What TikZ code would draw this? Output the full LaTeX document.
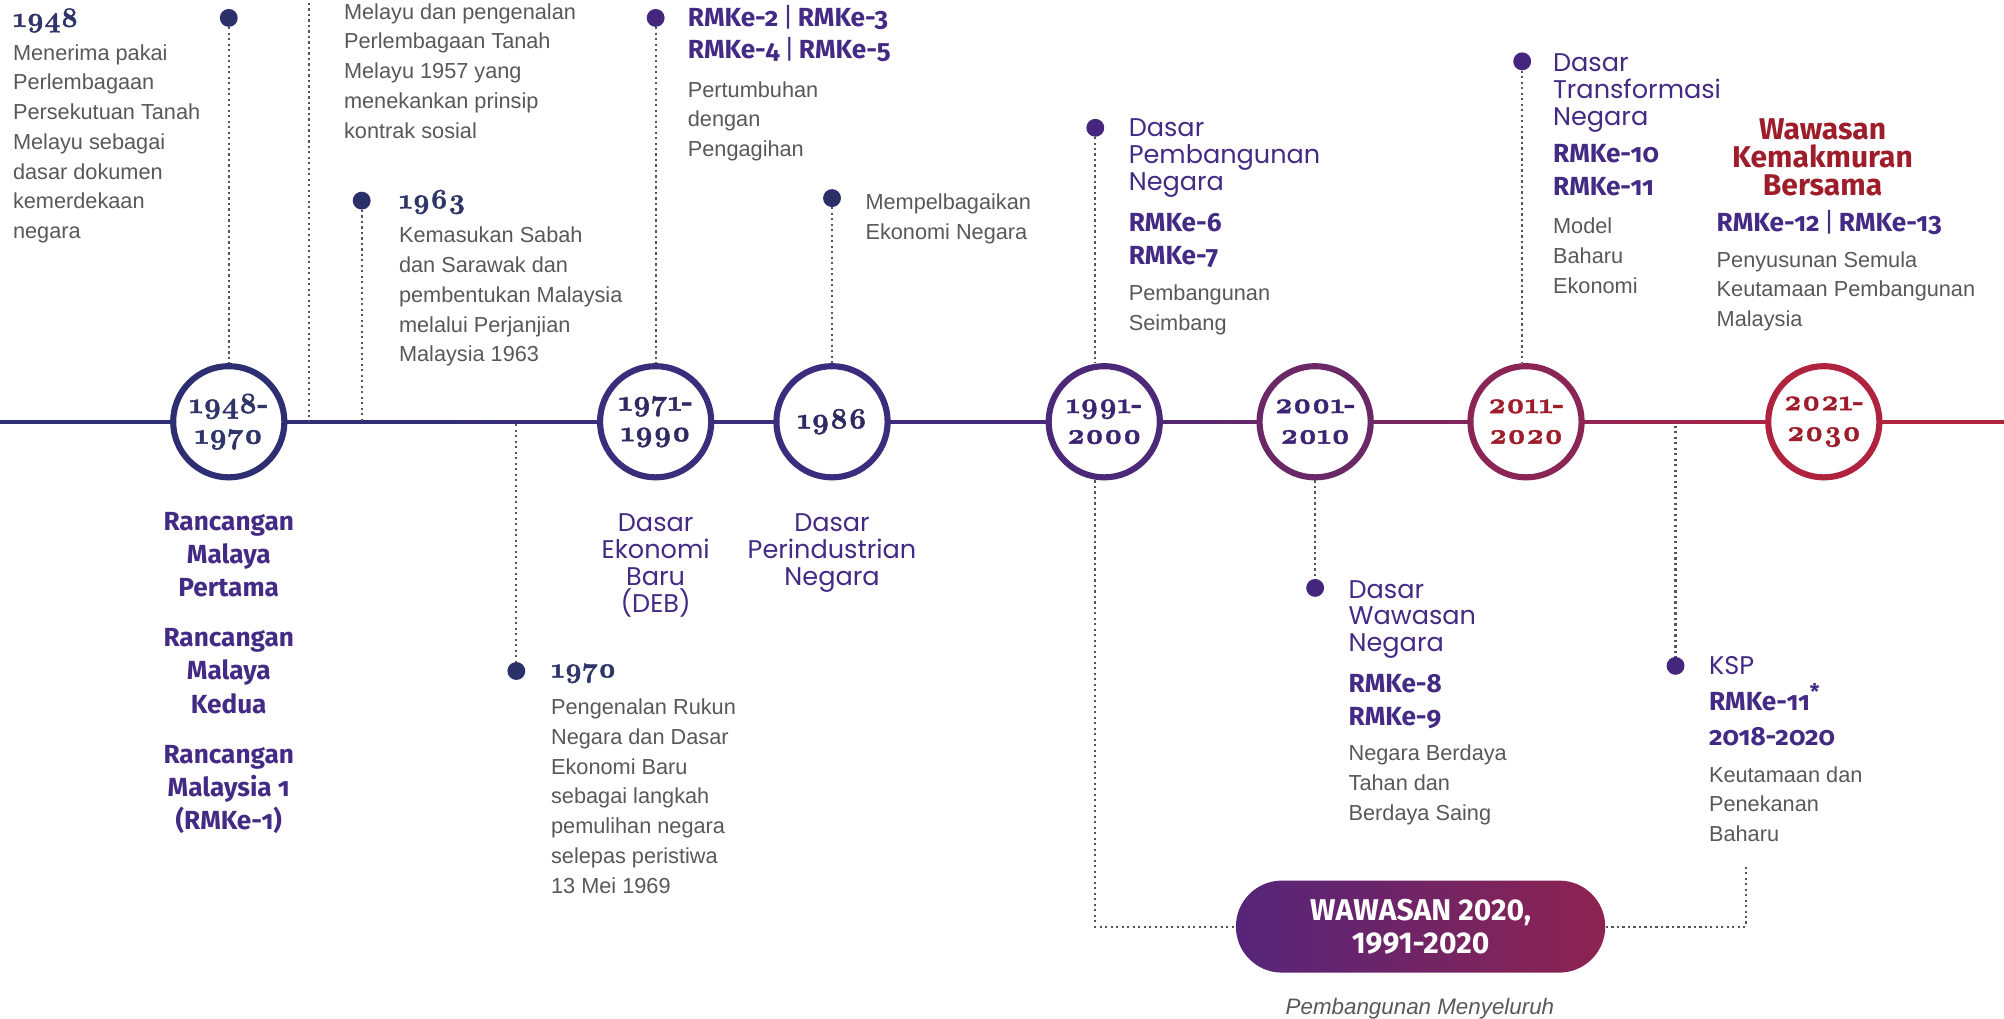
\documentclass[tikz,border=0pt]{standalone}
\usepackage{fontspec}
\usetikzlibrary{positioning}
\setmainfont{Liberation Sans}
\newfontfamily\yearfont[Numbers=OldStyle,BoldFeatures={FakeBold=1.6}]{Latin Modern Roman}
\newfontfamily\planfont[Numbers=OldStyle]{Fira Sans}
\newfontfamily\dasarfont{Poppins}
\definecolor{ringA}{HTML}{2E2F72}
\definecolor{ringB}{HTML}{3A2D7B}
\definecolor{ringC}{HTML}{3B2C7D}
\definecolor{ringD}{HTML}{4B2878}
\definecolor{ringE}{HTML}{6B2866}
\definecolor{ringF}{HTML}{8A2556}
\definecolor{ringG}{HTML}{B0233F}
\definecolor{navytxt}{HTML}{2F3569}
\definecolor{indigotxt}{HTML}{2F2A62}
\definecolor{plumtxt}{HTML}{3B2572}
\definecolor{redtxt}{HTML}{9E1D2A}
\definecolor{purpletxt}{HTML}{432A85}
\definecolor{graytxt}{HTML}{585858}
\definecolor{dotgray}{HTML}{555555}
\definecolor{navydot}{HTML}{2B3069}
\definecolor{purpledot}{HTML}{44267F}
\definecolor{pillL}{HTML}{55257A}
\definecolor{pillR}{HTML}{8E2350}
\pgfdeclarehorizontalshading{timeline}{100bp}{color(0bp)=(ringA); color(31bp)=(ringA); color(41bp)=(ringB); color(46bp)=(ringC); color(52.6bp)=(ringD); color(57.8bp)=(ringE); color(63.1bp)=(ringF); color(70.5bp)=(ringG); color(100bp)=(ringG)}
\newcommand{\ringw}{4.8pt}
\newcommand{\dotsz}{14pt}
\newcommand{\vbar}{\,{\fontseries{m}\selectfont|}\,}

\begin{document}
\begin{tikzpicture}[x=1pt,y=-1pt,
    ring/.style={circle, draw=#1, line width=\ringw, fill=white, minimum size=87pt, inner sep=0pt, align=center,
        font=\yearfont\bfseries\fontsize{23}{24}\selectfont},
    event/.style={circle, fill=#1, minimum size=\dotsz, inner sep=0pt},
    dotline/.style={dotgray, line width=1.7pt, dash pattern=on 1.7pt off 2.6pt},
    note/.style={anchor=base west, align=left, inner sep=0pt, text=graytxt, font=\fontsize{17}{23.3}\selectfont},
    yearhead/.style={anchor=base west, inner sep=0pt, text=navytxt, font=\yearfont\bfseries\fontsize{22}{22}\selectfont},
    plan/.style={anchor=base west, align=left, inner sep=0pt, text=purpletxt, font=\planfont\bfseries\fontsize{20.5}{26}\selectfont},
    dasar/.style={anchor=base west, align=left, inner sep=0pt, text=purpletxt, font=\dasarfont\fontsize{20}{21}\selectfont},
    pill/.style={rounded corners=36pt, minimum width=289pt, minimum height=72pt, left color=pillL, right color=pillR,
        text=white, align=center, font=\planfont\bfseries\addfontfeature{Numbers=Lining}\fontsize{23.5}{26}\selectfont}]
    %\draw[help lines, step=50] (0,0) grid (1568,797);
    \useasboundingbox (0,0) rectangle (1568,797);

    % time line and the rings
    \shade[shading=timeline] (0,328.8) rectangle (1568,331.2);
    \foreach \cx/\cid/\rc/\tc/\yrs in {179/c1948/ringA/navytxt/{1948-\\1970},
                                       513/c1971/ringB/indigotxt/{1971-\\1990},
                                       651/c1986/ringC/indigotxt/{1986},
                                       864/c1991/ringD/plumtxt/{1991-\\2000},
                                       1029/c2001/ringE/plumtxt/{2001-\\2010},
                                       1194/c2011/ringF/redtxt/{2011-\\2020},
                                       1427/c2021/ringG/redtxt/{2021-\\2030}} {
        \node[ring=\rc, text=\tc] (\cid) at (\cx,330) {\yrs};
    }

    % events above and below the line
    \node[event=navydot] (e1948) at (179,14) {};
    \node[event=navydot] (e1963) at (283,157) {};
    \node[event=navydot] (e1970) at (404,525) {};
    \node[event=purpledot] (e1971) at (513,14) {};
    \node[event=navydot] (e1986) at (651,155) {};
    \node[event=purpledot] (e1991) at (857,100) {};
    \node[event=purpledot] (e2001) at (1029,460) {};
    \node[event=purpledot] (e2011) at (1191,48) {};
    \node[event=purpledot] (eksp) at (1311,521) {};
    \coordinate (top1957) at (242,-2);
    \coordinate (tl1957) at (242,330);
    \coordinate (tl1963) at (283,330);
    \coordinate (tl1970) at (404,332);
    \coordinate (tlksp) at (1311,333);
    \coordinate (kspend) at (1366,678);

    \node[pill] (w2020) at (1111.5,725) {WAWASAN 2020,\\1991-2020};

    \draw[dotline] (e1948) -- (c1948);
    \draw[dotline] (top1957) -- (tl1957);
    \draw[dotline] (e1963) -- (tl1963);
    \draw[dotline] (tl1970) -- (e1970);
    \draw[dotline] (e1971) -- (c1971);
    \draw[dotline] (e1986) -- (c1986);
    \draw[dotline] (e1991) -- (e1991 |- c1991.north);
    \draw[dotline] (c1991.south -| e1991) |- (w2020);
    \draw[dotline] (c2001) -- (e2001);
    \draw[dotline] (e2011) -- (e2011 |- c2011.north);
    \draw[dotline] (tlksp) -- (eksp);
    \draw[dotline] (kspend) |- (w2020);

    % texts (a node's base is the base line of its last line)
    \node[yearhead] (h1948) at (10,21) {1948};
    \node[note] (n1948) at (10,186.8) {Menerima pakai\\Perlembagaan\\Persekutuan Tanah\\Melayu sebagai\\dasar dokumen\\kemerdekaan\\negara};
    \node[note] (n1957) at (269,108.2) {Melayu dan pengenalan\\Perlembagaan Tanah\\Melayu 1957 yang\\menekankan prinsip\\kontrak sosial};
    \node[yearhead] (h1963) at (312,163) {1963};
    \node[note] (n1963) at (312,283.2) {Kemasukan Sabah\\dan Sarawak dan\\pembentukan Malaysia\\melalui Perjanjian\\Malaysia 1963};
    \node[yearhead] (h1970) at (431,530) {1970};
    \node[note] (n1970) at (431,698.8) {Pengenalan Rukun\\Negara dan Dasar\\Ekonomi Baru\\sebagai langkah\\pemulihan negara\\selepas peristiwa\\13 Mei 1969};

    \node[plan, font=\planfont\bfseries\fontsize{20.5}{25}\selectfont] (p1971) at (538,46) {RMKe-2\vbar RMKe-3\\RMKe-4\vbar RMKe-5};
    \node[note] (n1971) at (538,122.6) {Pertumbuhan\\dengan\\Pengagihan};
    \node[note] (n1986) at (677,187.3) {Mempelbagaikan\\Ekonomi Negara};

    \node[dasar] (d1991) at (883,149) {Dasar\\Pembangunan\\Negara};
    \node[plan] (p1991) at (883,207) {RMKe-6\\RMKe-7};
    \node[note] (n1991) at (883,258.3) {Pembangunan\\Seimbang};

    \node[dasar] (d2011) at (1215,98) {Dasar\\Transformasi\\Negara};
    \node[plan] (p2011) at (1215,153) {RMKe-10\\RMKe-11};
    \node[note] (n2011) at (1215,229.6) {Model\\Baharu\\Ekonomi};

    \node[plan, anchor=base, align=center, text=redtxt, font=\planfont\bfseries\fontsize{23.5}{22}\selectfont] (t2021) at (1426,153) {Wawasan\\Kemakmuran\\Bersama};
    \node[plan] (p2021) at (1343,181) {RMKe-12\vbar RMKe-13};
    \node[note] (n2021) at (1343,255.6) {Penyusunan Semula\\Keutamaan Pembangunan\\Malaysia};

    \node[plan, anchor=base, align=center] (r1) at (179,467) {Rancangan\\Malaya\\Pertama};
    \node[plan, anchor=base, align=center] (r2) at (179,558) {Rancangan\\Malaya\\Kedua};
    \node[plan, anchor=base, align=center] (r3) at (179,649) {Rancangan\\Malaysia 1\\(RMKe-1)};
    \node[dasar, anchor=base, align=center] (d1971) at (513,479) {Dasar\\Ekonomi\\Baru\\(DEB)};
    \node[dasar, anchor=base, align=center] (d1986) at (651,458) {Dasar\\Perindustrian\\Negara};

    \node[dasar] (d2001) at (1055,510) {Dasar\\Wawasan\\Negara};
    \node[plan] (p2001) at (1055,568) {RMKe-8\\RMKe-9};
    \node[note] (n2001) at (1055,641.6) {Negara Berdaya\\Tahan dan\\Berdaya Saing};

    \node[dasar] (dksp) at (1337,528) {KSP};
    \node[plan, font=\planfont\bfseries\fontsize{20.5}{27}\selectfont] (pksp) at (1337,583) {RMKe-11{\fontsize{24}{24}\selectfont\textsuperscript{*}}\\2018-2020};
    \node[note] (nksp) at (1337,658.6) {Keutamaan dan\\Penekanan\\Baharu};

    \node[note, anchor=base, font=\itshape\fontsize{17.5}{20}\selectfont] (nw2020) at (1111,794) {Pembangunan Menyeluruh};
\end{tikzpicture}
\end{document}
